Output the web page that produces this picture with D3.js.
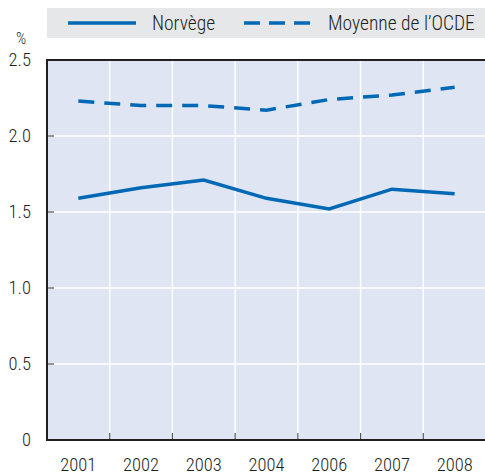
<!DOCTYPE html>
<html lang="en">
    <head>
        <meta charset="utf-8">
        <style>
            body { margin: 0; background: #fff; }
            svg { display: block; }
            text { font-family: "Roboto Condensed", "Liberation Sans Narrow", sans-serif; font-weight: 300; fill: #231f20; }
        </style>
    </head>
    <body>
        <script src="https://cdn.jsdelivr.net/npm/d3@7"></script>
        <script type="text/javascript" charset="utf-8">
            var years = ["2001", "2002", "2003", "2004", "2006", "2007", "2008"];
            var norvege = [1.59, 1.66, 1.71, 1.59, 1.52, 1.65, 1.62];
            var ocde = [2.23, 2.20, 2.20, 2.17, 2.24, 2.27, 2.32];
            var yTicks = [0, 0.5, 1.0, 1.5, 2.0, 2.5];
            var seriesNames = ["Norvège", "Moyenne de l\u2019OCDE"];

            var W = 485, H = 475;
            var pLeft = 47, pRight = 486, pTop = 60, pBottom = 440;
            var blue = "#0068b4";

            var svg = d3.select("body").append("svg").attr("width", W).attr("height", H);

            var x = d3.scaleBand().domain(years).range([pLeft, pRight]);
            var y = d3.scaleLinear().domain([0, 2.5]).range([pBottom, pTop]);

            // plot background
            svg.append("rect").attr("x", pLeft).attr("y", pTop)
                .attr("width", pRight - pLeft).attr("height", pBottom - pTop)
                .attr("fill", "#dfe5f3");

            // grid
            svg.selectAll("line.hg").data(yTicks.slice(1, -1)).enter().append("line")
                .attr("x1", pLeft).attr("x2", pRight)
                .attr("y1", function(d) { return y(d); }).attr("y2", function(d) { return y(d); })
                .attr("stroke", "#fff").attr("stroke-width", 1.5);
            svg.selectAll("line.vg").data(years.slice(1)).enter().append("line")
                .attr("x1", function(d) { return x(d); }).attr("x2", function(d) { return x(d); })
                .attr("y1", pTop).attr("y2", pBottom)
                .attr("stroke", "#fff").attr("stroke-width", 1.5);

            // ticks
            svg.selectAll("line.yt").data(yTicks.slice(1, -1)).enter().append("line")
                .attr("x1", pLeft).attr("x2", pLeft + 7)
                .attr("y1", function(d) { return y(d); }).attr("y2", function(d) { return y(d); })
                .attr("stroke", "#555").attr("stroke-width", 1.2);
            svg.selectAll("line.xt").data(years.slice(1)).enter().append("line")
                .attr("x1", function(d) { return x(d); }).attr("x2", function(d) { return x(d); })
                .attr("y1", pBottom).attr("y2", pBottom - 7)
                .attr("stroke", "#555").attr("stroke-width", 1.2);

            // frame
            svg.append("path")
                .attr("d", "M" + pRight + "," + pTop + "H" + pLeft + "V" + pBottom + "H" + pRight)
                .attr("fill", "none").attr("stroke", "#231f20").attr("stroke-width", 2);

            // labels
            svg.selectAll("text.yl").data(yTicks).enter().append("text")
                .attr("x", 31).attr("y", function(d) { return y(d) + 6; })
                .attr("text-anchor", "end").attr("font-size", 18.5)
                .text(function(d) { return d === 0 ? "0" : d3.format(".1f")(d); });
            svg.append("text").attr("x", 21).attr("y", 44).attr("text-anchor", "middle")
                .attr("font-size", 16).text("%");
            svg.selectAll("text.xl").data(years).enter().append("text")
                .attr("x", function(d) { return x(d) + x.bandwidth() / 2; }).attr("y", 471)
                .attr("text-anchor", "middle").attr("font-size", 18.5)
                .text(function(d) { return d; });

            // lines
            var line = d3.line()
                .x(function(d, i) { return x(years[i]) + x.bandwidth() / 2; })
                .y(function(d) { return y(d); });
            svg.append("path").datum(norvege).attr("d", line)
                .attr("fill", "none").attr("stroke", blue).attr("stroke-width", 3.5);
            svg.append("path").datum(ocde).attr("d", line)
                .attr("fill", "none").attr("stroke", blue).attr("stroke-width", 3.5)
                .attr("stroke-dasharray", "16,10");

            // legend
            svg.append("rect").attr("x", pLeft).attr("y", 8).attr("width", pRight - pLeft).attr("height", 30)
                .attr("fill", "#e6e7e8");
            svg.append("line").attr("x1", 68).attr("x2", 136).attr("y1", 23).attr("y2", 23)
                .attr("stroke", blue).attr("stroke-width", 3.5);
            svg.append("text").attr("x", 152).attr("y", 30).attr("font-size", 19.5).text(seriesNames[0]);
            svg.append("line").attr("x1", 244).attr("x2", 310).attr("y1", 23).attr("y2", 23)
                .attr("stroke", blue).attr("stroke-width", 3.5).attr("stroke-dasharray", "16,9");
            svg.append("text").attr("x", 328).attr("y", 30).attr("font-size", 19.5).text(seriesNames[1]);
        </script>
    </body>
</html>
